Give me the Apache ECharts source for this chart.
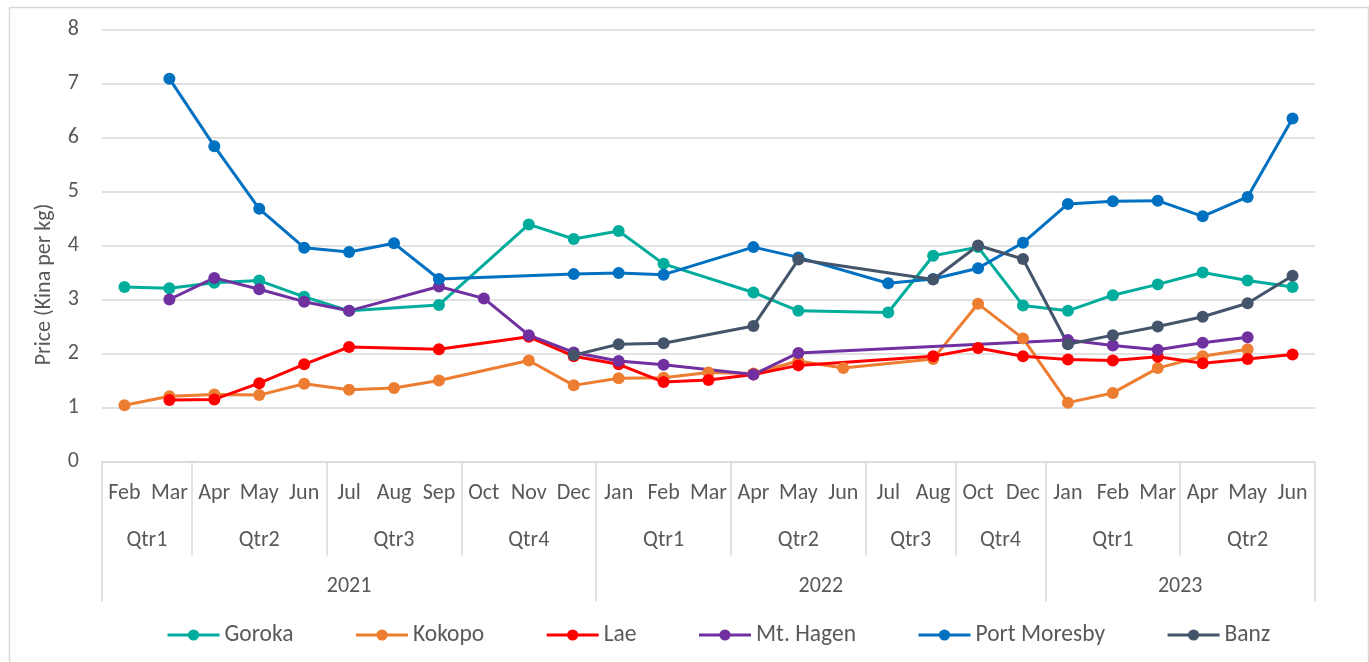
<!DOCTYPE html>
<html>
<head>
<meta charset="utf-8">
<script src="https://cdn.jsdelivr.net/npm/echarts@6/dist/echarts.min.js"></script>
<style>
html,body{margin:0;padding:0;background:#fff;}
#chart{width:1369px;height:662px;}
</style>
</head>
<body>
<div id="chart"></div>
<script>
// ---- data ----
var monthLabels = ['Feb','Mar','Apr','May','Jun','Jul','Aug','Sep','Oct','Nov','Dec',
                   'Jan','Feb','Mar','Apr','May','Jun','Jul','Aug','Oct','Dec',
                   'Jan','Feb','Mar','Apr','May','Jun'];
var quarterLabels = ['Qtr1','Qtr2','Qtr3','Qtr4','Qtr1','Qtr2','Qtr3','Qtr4','Qtr1','Qtr2'];
var quarterSizes  = [2,3,3,3,3,3,2,2,3,3];
var yearLabels = ['2021','2022','2023'];
var yearSizes  = [11,10,6];

var goroka = [3.23,3.21,3.31,3.35,3.05,2.79,null,2.90,null,4.39,4.12,4.27,3.66,null,3.13,2.79,null,2.76,3.81,3.97,2.89,2.79,3.08,3.28,3.50,3.35,3.23];
var kokopo = [1.04,1.21,1.24,1.23,1.44,1.33,1.36,1.50,null,1.87,1.41,1.54,1.55,1.65,1.63,1.86,1.73,null,1.90,2.92,2.28,1.09,1.27,1.73,1.95,2.08,null];
var lae    = [null,1.14,1.15,1.45,1.80,2.12,null,2.08,null,2.31,1.95,1.80,1.47,1.51,1.61,1.78,null,null,1.95,2.10,1.95,1.89,1.87,1.94,1.82,1.90,1.98];
var mtHagen = [null,3.00,3.40,3.19,2.96,2.79,null,3.24,3.02,2.34,2.02,1.86,1.79,null,1.61,2.01,null,null,null,null,null,2.25,2.15,2.07,2.20,2.30,null];
var portMoresby = [null,7.09,5.84,4.68,3.96,3.88,4.04,3.38,null,null,3.47,3.49,3.46,null,3.97,3.78,null,3.30,3.38,3.58,4.05,4.77,4.82,4.83,4.54,4.90,6.35];
var banz = [null,null,null,null,null,null,null,null,null,null,1.97,2.17,2.19,null,2.51,3.74,null,null,3.37,4.00,3.75,2.17,2.34,2.50,2.68,2.93,3.44];

var seriesNames = ['Goroka','Kokopo','Lae','Mt. Hagen','Port Moresby','Banz'];
var seriesData = [goroka, kokopo, lae, mtHagen, portMoresby, banz];
var seriesColors = ['#00AC9B','#ED7D31','#FF0000','#7030A0','#0070C0','#44546A'];

// ---- derived group positions ----
function groups(sizes){
  var b=[0], c=[], acc=0;
  sizes.forEach(function(s){ c.push(acc + s/2); acc += s; b.push(acc); });
  return {bounds:b, centers:c};
}
var qg = groups(quarterSizes), yg = groups(yearSizes);
var categories = monthLabels.map(function(m,i){ return i + '_' + m; });

var FONT = 'Carlito, Lato, sans-serif';
var FS = 22;
var TXT = '#595959';
var GRID = '#d9d9d9';

var chart = echarts.init(document.getElementById('chart'), null, {renderer:'canvas'});

function groupAxis(g, labels, tickLen, margin){
  return {
    type:'value', gridIndex:0, position:'bottom', min:0, max:monthLabels.length,
    axisLine:{show:false}, splitLine:{show:false},
    axisTick:{show:true, customValues:g.bounds, length:tickLen, lineStyle:{color:GRID, width:1.5}},
    axisLabel:{show:true, customValues:g.centers, margin:margin, color:TXT, fontFamily:FONT, fontSize:FS,
      formatter:function(v){ var k=g.centers.indexOf(v); return k>=0?labels[k]:''; }}
  };
}

var option = {
  animation:false,
  backgroundColor:'#fff',
  textStyle:{fontFamily:FONT},
  graphic:[{type:'rect', left:7, top:5, shape:{width:1359, height:680}, style:{fill:null, stroke:GRID, lineWidth:1.5}, silent:true, z:-10}],
  grid:{left:102, right:54, top:29.5, bottom:200.5, containLabel:false},
  legend:{
    left:161, top:618, itemGap:61, itemWidth:52, itemHeight:14,
    lineStyle:{width:3},
    textStyle:{color:TXT, fontSize:23.5, fontFamily:FONT},
    data:seriesNames
  },
  xAxis:[
    {type:'category', data:categories, boundaryGap:true,
     axisLine:{show:true, lineStyle:{color:GRID, width:1.5}},
     axisTick:{show:false},
     axisLabel:{interval:0, margin:21, color:TXT, fontFamily:FONT, fontSize:FS,
       formatter:function(v){ return v.split('_')[1]; }}},
    groupAxis(qg, quarterLabels, 94, 68),
    groupAxis(yg, yearLabels, 140, 114)
  ],
  yAxis:{
    type:'value', min:0, max:8, interval:1,
    axisLine:{show:false}, axisTick:{show:false},
    splitLine:{lineStyle:{color:GRID, width:1.5}},
    axisLabel:{margin:23, color:TXT, fontFamily:FONT, fontSize:FS},
    name:'Price (Kina per kg)', nameLocation:'middle', nameGap:47,
    nameTextStyle:{color:TXT, fontFamily:FONT, fontSize:FS, padding:[0,78,0,0]}
  },
  series: seriesNames.map(function(n,i){
    return {
      name:n, type:'line', xAxisIndex:0, data:seriesData[i], connectNulls:true,
      symbol:'circle', symbolSize:12, showSymbol:true,
      lineStyle:{color:seriesColors[i], width:3},
      itemStyle:{color:seriesColors[i]},
      emphasis:{disabled:true}
    };
  })
};
chart.setOption(option);
</script>
</body>
</html>
